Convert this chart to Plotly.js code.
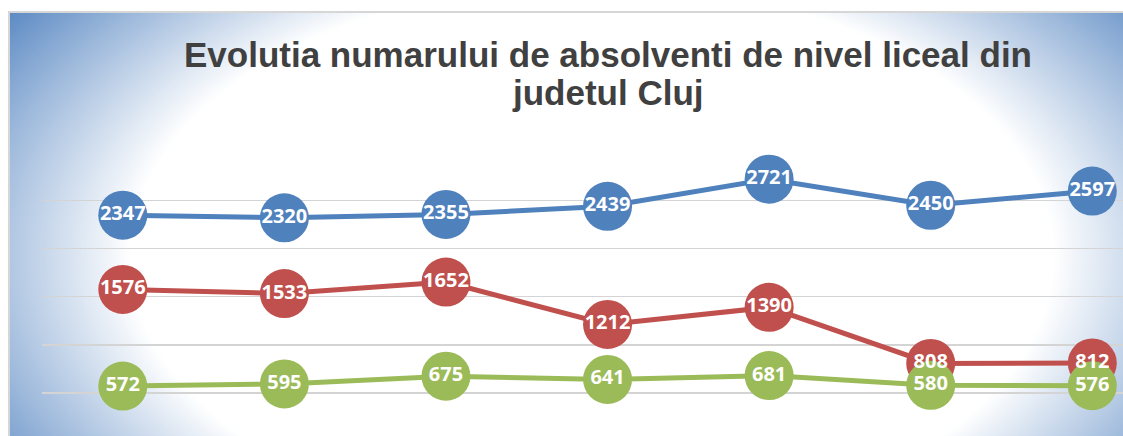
<!DOCTYPE html>
<html>
<head>
<meta charset="utf-8">
<script src="https://cdn.plot.ly/plotly-3.0.1.min.js"></script>
<style>
  html, body { margin: 0; padding: 0; background: #ffffff; width: 1123px; height: 436px; overflow: hidden; }
  #frame {
    position: absolute; left: 8px; top: 11px; width: 1200px; height: 500px;
    border-left: 2px solid #d6d6d6; border-top: 2px solid #d6d6d6;
    background: radial-gradient(ellipse 640px 380px at 582px 244px, #ffffff 0%, #ffffff 72%, #4a7dbd 116%);
  }
  #chart { position: absolute; left: 0; top: 0; width: 1123px; height: 436px; }
</style>
</head>
<body>
<div id="frame"></div>
<div id="chart"></div>
<script>
// Categories (x-axis labels are cropped out of the reference picture)
const categories = ["1", "2", "3", "4", "5", "6", "7"];
const seriesBlue  = [2347, 2320, 2355, 2439, 2721, 2450, 2597];
const seriesRed   = [1576, 1533, 1652, 1212, 1390, 808, 812];
const seriesGreen = [572, 595, 675, 641, 681, 580, 576];
const titleLines = ["Evolutia numarului de absolventi de nivel liceal din", "judetul Cluj"];

const colors = { blue: "#4f81bd", red: "#c0504d", green: "#9bbb59" };

function lineTrace(values, color, name) {
  return {
    type: "scatter", mode: "lines+markers", name: name,
    x: categories, y: values,
    line: { color: color, width: 5 },
    marker: { color: color, size: 49, line: { width: 0 } },
    cliponaxis: false, hoverinfo: "skip"
  };
}
function textTrace(values, name) {
  return {
    type: "scatter", mode: "text", name: name,
    x: categories, y: values,
    text: values.map(String), textposition: "middle center",
    textfont: { family: "Open Sans, DejaVu Sans, sans-serif", size: 20, color: "#ffffff", weight: "bold" },
    cliponaxis: false, hoverinfo: "skip"
  };
}

const data = [
  lineTrace(seriesBlue, colors.blue, "blue"),
  lineTrace(seriesRed, colors.red, "red"),
  lineTrace(seriesGreen, colors.green, "green"),
  textTrace(seriesBlue, "blue labels"),
  textTrace(seriesRed, "red labels"),
  textTrace(seriesGreen, "green labels")
];

// pixel (from top) -> paper y (plot area spans y=152..436)
const H = 436, T = 152;
function py(px) { return (H - px) / (H - T); }
const titleFont = { family: "Liberation Sans, Arial, sans-serif", size: 35, color: "#404040", weight: "bold" };

const layout = {
  width: 1123, height: 436,
  paper_bgcolor: "rgba(0,0,0,0)", plot_bgcolor: "rgba(0,0,0,0)",
  margin: { l: 42, r: 0, t: T, b: 0, pad: 0 },
  showlegend: false,
  annotations: [
    { text: titleLines[0], xref: "paper", x: (608 - 42) / (1123 - 42), xanchor: "center",
      yref: "paper", y: py(55), yanchor: "middle", showarrow: false, font: titleFont },
    { text: titleLines[1], xref: "paper", x: (608 - 42) / (1123 - 42), xanchor: "center",
      yref: "paper", y: py(93), yanchor: "middle", showarrow: false, font: titleFont }
  ],
  xaxis: {
    type: "category", range: [-0.5, 6.19],
    showgrid: false, zeroline: false, showline: false,
    showticklabels: false, ticks: ""
  },
  yaxis: {
    range: [54, 3003], tick0: 0, dtick: 500,
    showgrid: true, gridcolor: "#d4d4d4", gridwidth: 1.5,
    zeroline: false, showline: false, showticklabels: false, ticks: ""
  }
};

Plotly.newPlot("chart", data, layout, { staticPlot: true, displayModeBar: false });
</script>
</body>
</html>
